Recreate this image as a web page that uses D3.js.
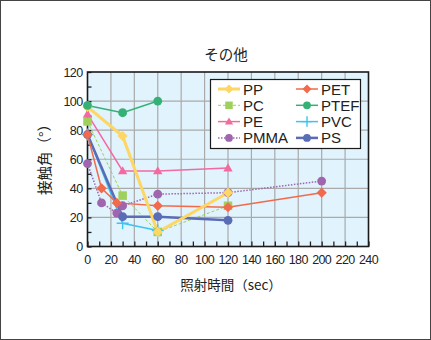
<!DOCTYPE html>
<html><head><meta charset="utf-8">
<script src="https://cdn.jsdelivr.net/npm/d3@7"></script>
<style>
html,body{margin:0;padding:0;background:#fff;}
svg{display:block;}
text{font-family:"Liberation Sans","Arial",sans-serif;}
.cjk{font-family:"Noto Sans CJK JP",sans-serif;}
</style></head>
<body><svg id="c" width="431" height="340"></svg>
<script>
const titleText = "その他";
const xLabel = "照射時間（sec）";
const yLabel = "接触角（°）";
const xTicks = [0,20,40,60,80,100,120,140,160,180,200,220,240];
const yTicks = [0,20,40,60,80,100,120];

const ppX = [0,30,60,120],            ppY = [96,76,10,37];
const pcX = [0,30,60,120],            pcY = [86,35,10,28];
const peX = [0,30,60,120],            peY = [91,52,52,54];
const pmmaX = [0,12,25,30,60,120,200], pmmaY = [57,30,23,28,36,37,45];
const petX = [0,12,25,60,120,200],    petY = [77,40,30,28,27,37];
const ptefX = [0,30,60],              ptefY = [97,92,100];
const pvcX = [0,30,60],               pvcY = [77,16,11];
const psX = [0,30,60,120],            psY = [77,20.5,20.5,18];

const seriesNames = ["PP","PC","PE","PMMA","PET","PTEF","PVC","PS"];
const series = {
  PP:{x:ppX,y:ppY,color:"#fdd663",w:3,dash:null,m:"diamond"},
  PC:{x:pcX,y:pcY,color:"#9fd05c",w:1,dash:"3,2",m:"square"},
  PE:{x:peX,y:peY,color:"#f36aa0",w:1.5,dash:null,m:"triangle"},
  PMMA:{x:pmmaX,y:pmmaY,color:"#a066ad",w:1.5,dash:"1.5,1.5",m:"circle"},
  PET:{x:petX,y:petY,color:"#f26a4b",w:1.5,dash:null,m:"diamond"},
  PTEF:{x:ptefX,y:ptefY,color:"#36b176",w:1.5,dash:null,m:"circle"},
  PVC:{x:pvcX,y:pvcY,color:"#3fc3f0",w:1.5,dash:null,m:"plus"},
  PS:{x:psX,y:psY,color:"#5a6cb6",w:2.5,dash:null,m:"circle"}
};
const drawOrder = ["PMMA","PC","PVC","PS","PET","PE","PP","PTEF"];

const svg = d3.select("#c");
svg.append("rect").attr("x",0.5).attr("y",0.5).attr("width",430).attr("height",339)
  .attr("fill","#fff").attr("stroke","#444").attr("stroke-width",1);

const L=87.5, R=368.5, T=72, B=246.5;
const x = d3.scaleLinear().domain([0,240]).range([L,R]);
const y = d3.scaleLinear().domain([0,120]).range([B,T]);

svg.append("rect").attr("x",L).attr("y",T).attr("width",R-L).attr("height",B-T).attr("fill","#e1f3fc");

// grid
const g = svg.append("g");
g.selectAll(".vx").data(xTicks.slice(1,-1)).join("line")
  .attr("x1",d=>x(d)).attr("x2",d=>x(d)).attr("y1",T).attr("y2",B)
  .attr("stroke","#aaaaaa").attr("stroke-width",1.2);
g.selectAll(".hy").data(yTicks.slice(1,-1)).join("line")
  .attr("x1",L).attr("x2",R).attr("y1",d=>y(d)).attr("y2",d=>y(d))
  .attr("stroke","#aaaaaa").attr("stroke-width",1.2);

// axes
const xAxis = d3.axisBottom(x).tickValues(d3.range(0,241,10)).tickSize(-5).tickFormat("");
svg.append("g").attr("transform",`translate(0,${B})`).call(xAxis)
  .call(s=>{s.select(".domain").remove(); s.selectAll("line").attr("stroke","#222").attr("stroke-width",1.3);});
const yAxis = d3.axisLeft(y).tickValues(d3.range(0,121,10)).tickSize(-4).tickFormat("");
svg.append("g").attr("transform",`translate(${L},0)`).call(yAxis)
  .call(s=>{s.select(".domain").remove(); s.selectAll("line").attr("stroke","#222").attr("stroke-width",1.3);});

svg.append("rect").attr("x",L).attr("y",T).attr("width",R-L).attr("height",B-T)
  .attr("fill","none").attr("stroke","#1a1a1a").attr("stroke-width",1.6);

// tick labels
svg.append("g").selectAll("text").data(xTicks).join("text")
  .attr("x",d=>x(d)).attr("y",B+17).attr("text-anchor","middle")
  .attr("font-size",12.5).attr("fill","#222").attr("letter-spacing",-0.6).text(d=>d);
svg.append("g").selectAll("text").data(yTicks).join("text")
  .attr("x",L-5).attr("y",d=>y(d)+4.5).attr("text-anchor","end")
  .attr("font-size",12.5).attr("fill","#222").attr("letter-spacing",-0.6).text(d=>d);

// titles
svg.append("text").attr("class","cjk").attr("x",226).attr("y",60).attr("text-anchor","middle")
  .attr("font-size",14.5).attr("fill","#222").text(titleText);
svg.append("text").attr("class","cjk").attr("x",231).attr("y",290).attr("text-anchor","middle")
  .attr("font-size",13.5).attr("fill","#222").text(xLabel);
svg.append("text").attr("class","cjk").attr("transform","translate(50,156) rotate(-90)")
  .attr("text-anchor","middle").attr("font-size",14.5).attr("fill","#222").text(yLabel);

function marker(sel, type, color, cx, cy, s){
  if(type==="circle") sel.append("circle").attr("cx",cx).attr("cy",cy).attr("r",s*0.52).attr("fill",color);
  else if(type==="square") sel.append("rect").attr("x",cx-s/2).attr("y",cy-s/2).attr("width",s).attr("height",s).attr("fill",color);
  else if(type==="diamond") sel.append("path").attr("d",`M${cx},${cy-s*0.6}L${cx+s*0.6},${cy}L${cx},${cy+s*0.6}L${cx-s*0.6},${cy}Z`).attr("fill",color);
  else if(type==="triangle") sel.append("path").attr("d",`M${cx},${cy-s*0.55}L${cx+s*0.55},${cy+s*0.4}L${cx-s*0.55},${cy+s*0.4}Z`).attr("fill",color);
  else if(type==="plus") sel.append("path").attr("d",`M${cx-s*0.7},${cy}H${cx+s*0.7}M${cx},${cy-s*0.7}V${cy+s*0.7}`).attr("stroke",color).attr("stroke-width",1.4).attr("fill","none");
}

const line = d3.line().x(d=>x(d[0])).y(d=>y(d[1]));
const plot = svg.append("g");
drawOrder.forEach(n=>{
  const s = series[n];
  const pts = s.x.map((v,i)=>[v,s.y[i]]);
  plot.append("path").datum(pts).attr("d",line).attr("fill","none")
    .attr("stroke",s.color).attr("stroke-width",s.w).attr("stroke-dasharray",s.dash);
});
drawOrder.forEach(n=>{
  const s = series[n];
  const gg = plot.append("g");
  s.x.forEach((v,i)=>marker(gg, s.m, s.color, x(v), y(s.y[i]), 8.5));
});

// legend
const lg = svg.append("g");
lg.append("rect").attr("x",210.5).attr("y",79.5).attr("width",150).attr("height",69)
  .attr("fill","#fff").attr("stroke","#1a1a1a").attr("stroke-width",1.2);
seriesNames.forEach((n,i)=>{
  const s = series[n];
  const col = Math.floor(i/4), row = i%4;
  const lx = col===0 ? 218 : 296;
  const cy = 89 + row*16.3;
  lg.append("line").attr("x1",lx).attr("x2",lx+22).attr("y1",cy).attr("y2",cy)
    .attr("stroke",s.color).attr("stroke-width",s.w).attr("stroke-dasharray",s.dash);
  marker(lg, s.m, s.color, lx+11, cy, 7.5);
  lg.append("text").attr("x",lx+25).attr("y",cy+5.5).attr("font-size",15).attr("fill","#222").text(n);
});
</script></body></html>
